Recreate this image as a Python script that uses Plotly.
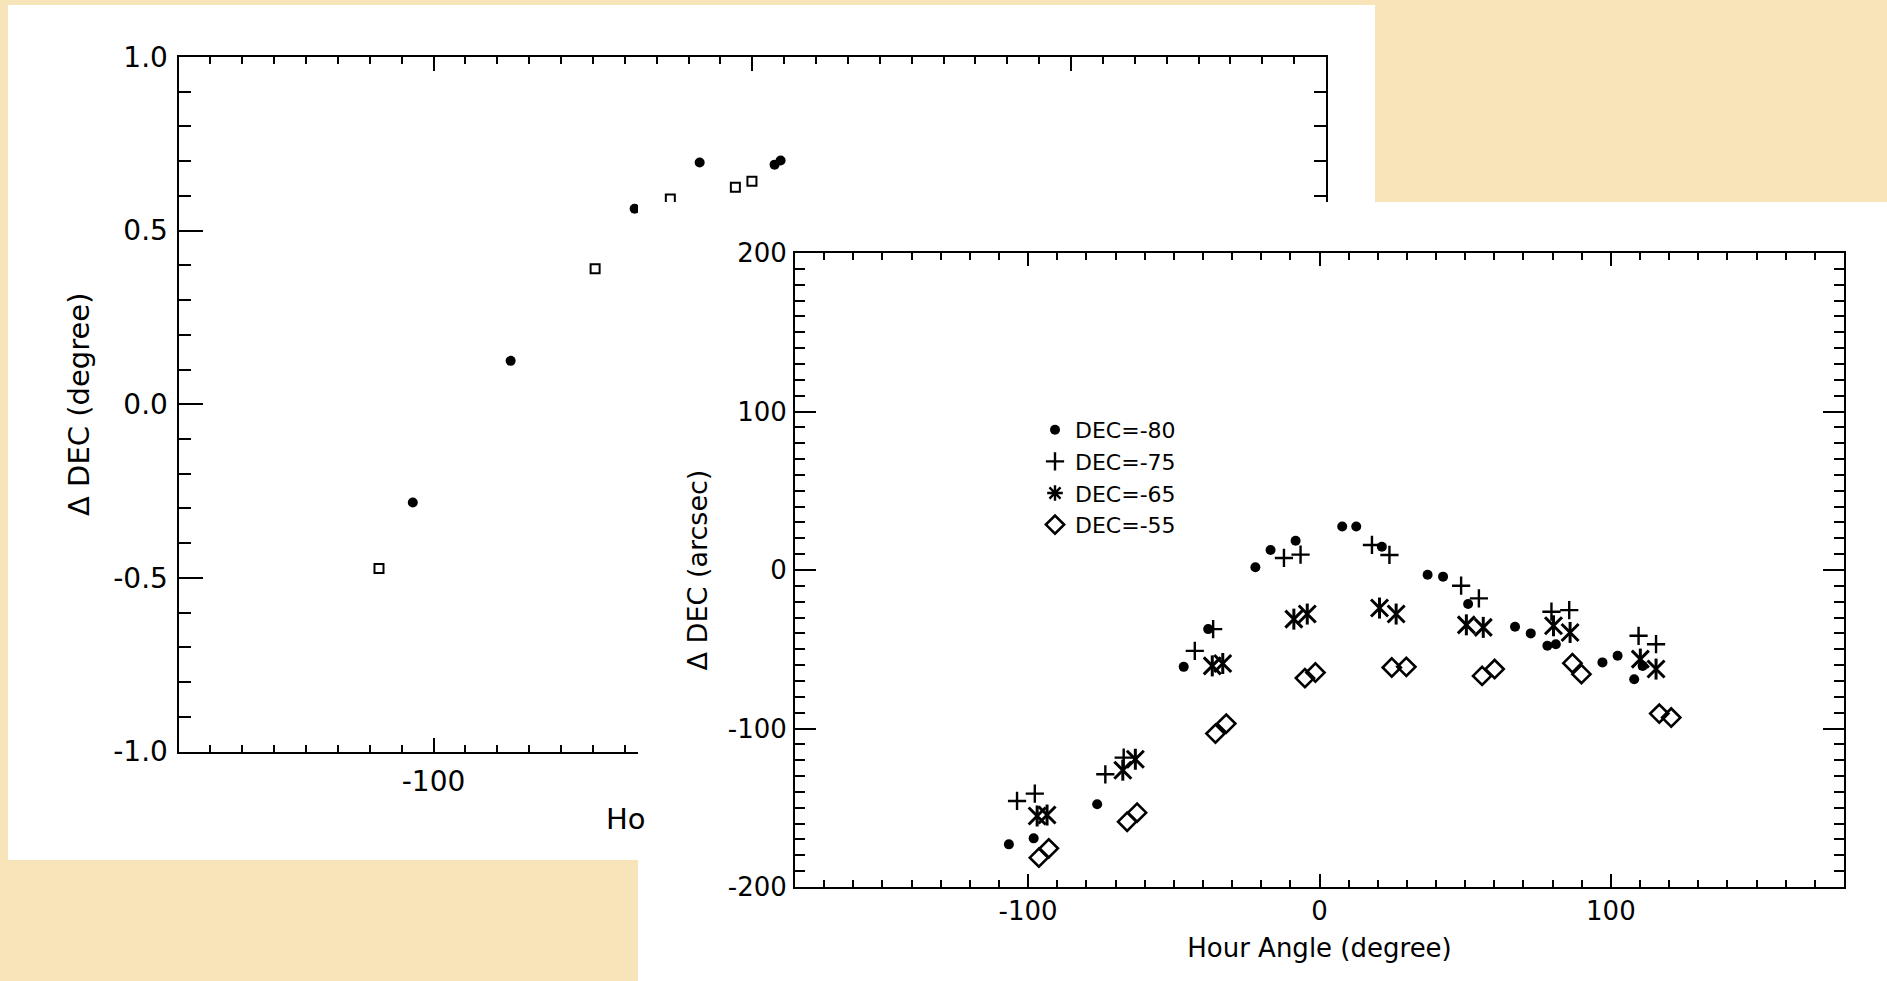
import plotly.graph_objects as go

W, H = 1887, 981
FONT = "DejaVu Sans"
BG = "#F7E4B8"

# ---------------- back plot (degree) : visible points only ----------------
back_sq_ha = [-117.1, -49.3, -25.7, -5.3, -0.1]
back_sq_dd = [-0.473, 0.390, 0.591, 0.625, 0.642]
back_dot_ha = [-106.5, -75.8, -36.9, -16.5, 7.0, 8.9]
back_dot_dd = [-0.283, 0.125, 0.563, 0.696, 0.690, 0.702]

back_x_tickvals = [-100, 0, 100]
back_x_ticktext = ["-100", "0", "100"]
back_y_tickvals = [-1.0, -0.5, 0.0, 0.5, 1.0]
back_y_ticktext = ["-1.0", "-0.5", "0.0", "0.5", "1.0"]

# ---------------- front plot (arcsec) ----------------
ha_80 = [-106.6, -98.1, -76.3, -46.6, -38.2, -22.0, -16.8, -8.2, 7.8, 12.6, 21.4,
         37.1, 42.4, 51.0, 67.1, 72.5, 78.2, 81.1, 97.1, 102.3, 108.0, 110.9]
dd_80 = [-173.1, -169.3, -147.8, -61.1, -37.3, 1.7, 12.6, 18.5, 27.4, 27.4, 14.7,
         -3.0, -4.2, -21.5, -35.8, -40.0, -47.8, -46.8, -58.3, -54.1, -68.9, -60.5]

ha_75 = [-103.8, -97.7, -73.5, -67.2, -42.8, -36.5, -12.2, -6.5, 18.0, 24.0,
         48.6, 54.7, 79.6, 85.7, 109.5, 115.5]
dd_75 = [-145.7, -141.1, -128.9, -118.4, -51.0, -37.3, 7.6, 9.7, 15.8, 9.5,
         -9.9, -17.9, -26.3, -25.3, -41.5, -46.8]

ha_65 = [-96.9, -93.5, -67.5, -63.2, -36.8, -33.2, -8.8, -4.2, 20.6, 26.3,
         50.4, 56.2, 80.3, 86.0, 110.1, 115.5]
dd_65 = [-155.2, -154.6, -126.3, -119.4, -60.5, -59.0, -31.0, -27.8, -24.0, -27.8,
         -34.6, -36.2, -35.2, -39.4, -56.2, -62.5]

ha_55 = [-96.3, -92.9, -66.0, -62.6, -35.7, -32.0, -5.0, -1.4, 24.8, 29.8,
         55.8, 60.1, 86.8, 89.9, 116.6, 120.7]
dd_55 = [-181.5, -175.6, -158.8, -153.1, -103.2, -96.9, -68.2, -64.7, -61.5, -61.1,
         -66.8, -62.5, -58.8, -65.7, -90.6, -93.1]

series_names = ["DEC=-80", "DEC=-75", "DEC=-65", "DEC=-55"]

front_x_tickvals = [-100, 0, 100]
front_x_ticktext = ["-100", "0", "100"]
front_y_tickvals = [-200, -100, 0, 100, 200]
front_y_ticktext = ["-200", "-100", "0", "100", "200"]


def fx(p):
    return p / W


def fy(p):
    return 1 - p / H


fig = go.Figure()

# back plot traces
fig.add_trace(go.Scatter(x=back_sq_ha, y=back_sq_dd, mode="markers", xaxis="x", yaxis="y",
                         marker=dict(symbol="square-open", size=9, color="black",
                                     line=dict(width=2, color="black")),
                         showlegend=False, hoverinfo="skip"))
fig.add_trace(go.Scatter(x=back_dot_ha, y=back_dot_dd, mode="markers", xaxis="x", yaxis="y",
                         marker=dict(symbol="circle", size=10, color="black"),
                         showlegend=False, hoverinfo="skip"))

# occluding panel (white sheet of the front figure)
fig.add_trace(go.Scatter(x=[None], y=[None], xaxis="x2", yaxis="y2", mode="markers",
                         showlegend=False, hoverinfo="skip"))

# front plot traces
fig.add_trace(go.Scatter(x=ha_80, y=dd_80, mode="markers", xaxis="x3", yaxis="y3",
                         name=series_names[0], legendrank=1,
                         marker=dict(symbol="circle", size=10, color="black")))
fig.add_trace(go.Scatter(x=ha_75, y=dd_75, mode="markers", xaxis="x3", yaxis="y3",
                         name=series_names[1], legendrank=2,
                         marker=dict(symbol="cross-thin-open", size=13, color="black",
                                     line=dict(width=2.4, color="black"))))
# 6-armed asterisk = vertical bar + X
for sym, sz in [("line-ns-open", 15), ("x-thin-open", 17)]:
    fig.add_trace(go.Scatter(x=ha_65, y=dd_65, mode="markers", xaxis="x3", yaxis="y3",
                             name=series_names[2], showlegend=False, hoverinfo="skip",
                             marker=dict(symbol=sym, size=sz, color="black",
                                         line=dict(width=3, color="black"))))
fig.add_trace(go.Scatter(x=[None], y=[None], mode="markers", xaxis="x3", yaxis="y3",
                         name=series_names[2], legendrank=3,
                         marker=dict(symbol="asterisk-open", size=13, color="black",
                                     line=dict(width=2.4, color="black"))))
fig.add_trace(go.Scatter(x=ha_55, y=dd_55, mode="markers", xaxis="x3", yaxis="y3",
                         name=series_names[3], legendrank=4,
                         marker=dict(symbol="diamond-open", size=14, color="black",
                                     line=dict(width=2.6, color="black"))))


def axis_common(size):
    return dict(showgrid=False, zeroline=False, showline=True, linecolor="black",
                linewidth=2, mirror="allticks", ticks="inside", tickcolor="black",
                tickwidth=1.5, tickfont=dict(family=FONT, size=size, color="black"),
                fixedrange=True, automargin=False, tickmode="array")


# back axes
bx = axis_common(28)
bx.update(domain=[fx(178.5), fx(1326)], anchor="y", range=[-180, 180],
          tickvals=back_x_tickvals, ticktext=back_x_ticktext,
          ticklen=14, ticklabelstandoff=4,
          minor=dict(tickmode="linear", tick0=0, dtick=10, ticks="inside", ticklen=7,
                     tickwidth=1.5, tickcolor="black", showgrid=False))
by = axis_common(28)
by.update(domain=[fy(751.5), fy(57)], anchor="x", range=[-1, 1],
          tickvals=back_y_tickvals, ticktext=back_y_ticktext,
          ticklen=24, ticklabelstandoff=3,
          minor=dict(tickmode="linear", tick0=0, dtick=0.1, ticks="inside", ticklen=12,
                     tickwidth=1.5, tickcolor="black", showgrid=False),
          title=dict(text="Δ DEC (degree)", font=dict(family=FONT, size=29, color="black"),
                     standoff=15))

# occluder axes
ox = dict(domain=[fx(638), 1], anchor="y2", range=[0, 1], visible=False, fixedrange=True,
          automargin=False)
oy = dict(domain=[0, fy(202)], anchor="x2", range=[0, 1], visible=False, fixedrange=True,
          automargin=False)

# front axes
fxa = axis_common(26)
fxa.update(domain=[fx(795), fx(1844)], anchor="y3", range=[-180, 180],
           tickvals=front_x_tickvals, ticktext=front_x_ticktext,
           ticklen=13, ticklabelstandoff=0,
           minor=dict(tickmode="linear", tick0=0, dtick=10, ticks="inside", ticklen=7,
                      tickwidth=1.5, tickcolor="black", showgrid=False),
           title=dict(text="Hour Angle (degree)", font=dict(family=FONT, size=26, color="black"),
                      standoff=14))
fya = axis_common(26)
fya.update(domain=[fy(887), fy(253)], anchor="x3", range=[-200, 200],
           tickvals=front_y_tickvals, ticktext=front_y_ticktext,
           ticklen=21, ticklabelstandoff=1,
           minor=dict(tickmode="linear", tick0=0, dtick=10, ticks="inside", ticklen=10,
                      tickwidth=1.5, tickcolor="black", showgrid=False),
           title=dict(text="Δ DEC (arcsec)", font=dict(family=FONT, size=27, color="black"),
                      standoff=12))

fig.update_layout(
    width=W, height=H, autosize=False,
    margin=dict(l=0, r=0, t=0, b=0, pad=0, autoexpand=False),
    paper_bgcolor=BG, plot_bgcolor="white",
    font=dict(family=FONT, color="black"),
    xaxis=bx, yaxis=by, xaxis2=ox, yaxis2=oy, xaxis3=fxa, yaxis3=fya,
    showlegend=True,
    legend=dict(x=fx(1035), y=fy(409), xanchor="left", yanchor="top",
                bgcolor="rgba(0,0,0,0)", borderwidth=0,
                font=dict(family=FONT, size=22, color="black"),
                itemsizing="trace", tracegroupgap=0),
    shapes=[dict(type="rect", xref="paper", yref="paper", layer="below",
                 x0=fx(8), x1=fx(1375), y0=fy(860), y1=fy(5),
                 fillcolor="white", line=dict(width=0))],
    annotations=[dict(text="Ho", xref="paper", yref="paper", x=fx(604), y=fy(819),
                      xanchor="left", yanchor="middle", showarrow=False,
                      font=dict(family=FONT, size=29, color="black"))],
)

fig.write_html("out.html", config={"displayModeBar": False})
